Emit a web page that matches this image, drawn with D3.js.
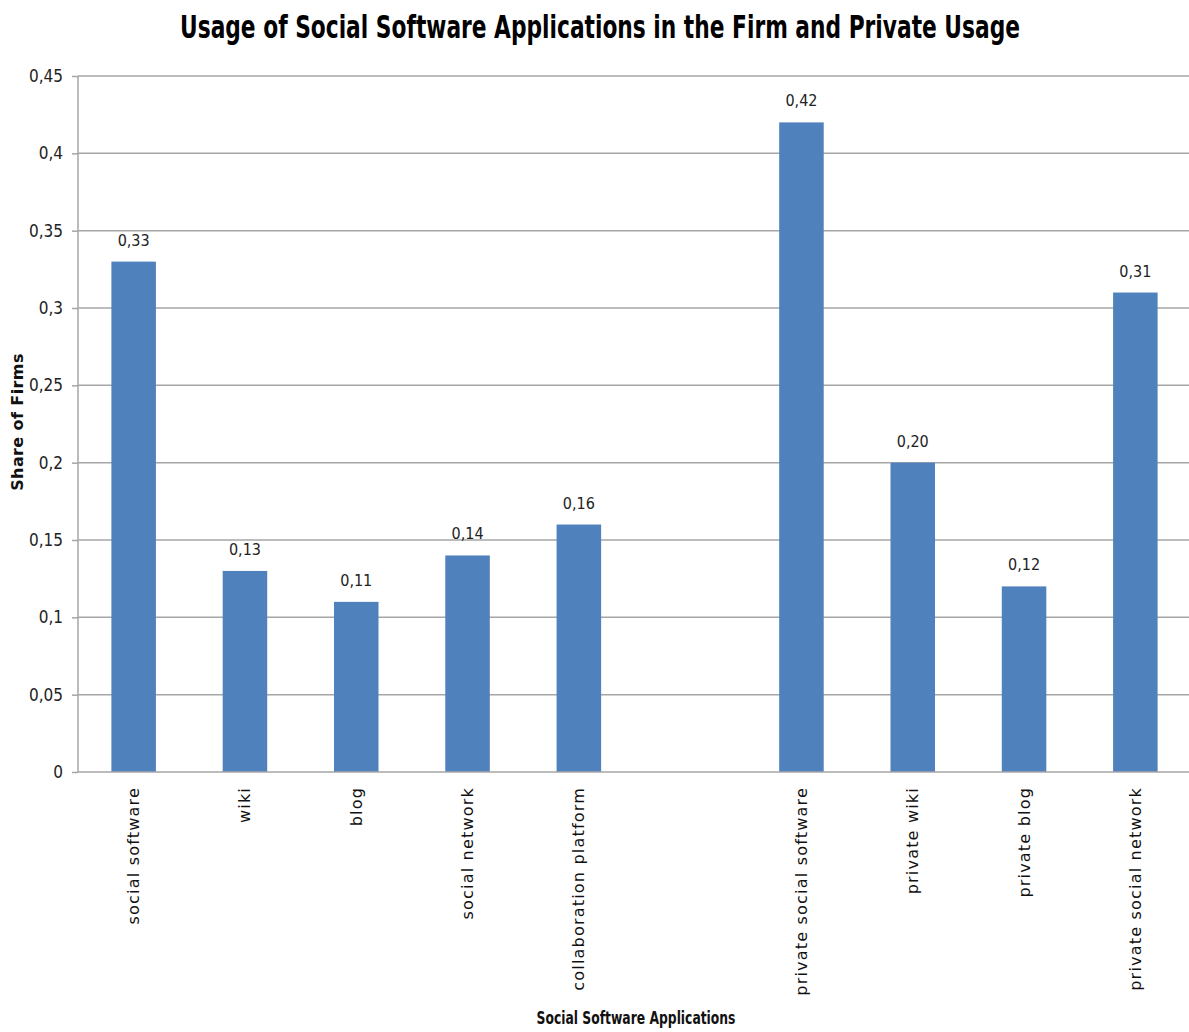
<!DOCTYPE html>
<html><head><meta charset="utf-8">
<script src="https://cdn.jsdelivr.net/npm/d3@7"></script>
<style>body{margin:0;background:#fff}</style>
</head><body>
<svg id="c" width="1189" height="1032"></svg>
<script>
const categories = ["social software","wiki","blog","social network","collaboration platform","","private social software","private wiki","private blog","private social network"];
const values = [0.33,0.13,0.11,0.14,0.16,null,0.42,0.20,0.12,0.31];
const yTicks = [0,0.05,0.1,0.15,0.2,0.25,0.3,0.35,0.4,0.45];
const yTickLabels = ["0","0,05","0,1","0,15","0,2","0,25","0,3","0,35","0,4","0,45"];
const title = "Usage of Social Software Applications in the Firm and Private Usage";
const xTitle = "Social Software Applications";
const yTitle = "Share of Firms";

(function(){
const svg = d3.select("#c");
const pL = 78, pR = 1191, pT = 76, pB = 772;
const narrow = "'DejaVu Sans Condensed','Liberation Sans Narrow',sans-serif";

const x = d3.scaleBand().domain(d3.range(categories.length)).range([pL, pR]).paddingInner(0.6).paddingOuter(0.3);
const y = d3.scaleLinear().domain([0,0.45]).range([pB, pT]);

// grid
svg.append("g").selectAll("line").data(yTicks.slice(1)).join("line")
  .attr("x1", pL).attr("x2", 1189).attr("y1", d=>y(d)).attr("y2", d=>y(d))
  .attr("stroke", "#a6a6a6").attr("stroke-width", 1.5);

// y axis
const ya = svg.append("g").attr("transform", `translate(${pL},0)`)
  .call(d3.axisLeft(y).tickValues(yTicks).tickSize(6).tickFormat((d,i)=>yTickLabels[i]));
ya.select(".domain").attr("stroke","#a6a6a6").attr("stroke-width",1.5).attr("d",`M0,${pT}V${pB}`);
ya.selectAll(".tick line").attr("stroke","#a6a6a6").attr("stroke-width",1.5);
ya.selectAll(".tick text").attr("x",-15).attr("font-family",narrow).attr("font-size",17).attr("fill","#222");

// bars
const data = categories.map((c,i)=>({c,i,v:values[i]})).filter(d=>d.v!==null);
svg.append("g").selectAll("rect").data(data).join("rect")
  .attr("x", d=>x(d.i)).attr("width", x.bandwidth())
  .attr("y", d=>y(d.v)).attr("height", d=>pB - y(d.v))
  .attr("fill", "#4F81BD");

// value labels
svg.append("g").selectAll("text").data(data).join("text")
  .attr("x", d=>x(d.i)+x.bandwidth()/2).attr("y", d=>y(d.v)-16)
  .attr("text-anchor","middle").attr("font-family",narrow).attr("font-size",16).attr("fill","#222")
  .text(d=>d.v.toFixed(2).replace(".",","));

// x axis line
svg.append("line").attr("x1",pL).attr("x2",1189).attr("y1",pB).attr("y2",pB)
  .attr("stroke","#a6a6a6").attr("stroke-width",1.5);

// category labels
svg.append("g").selectAll("text").data(categories.map((c,i)=>({c,i}))).join("text")
  .attr("transform", d=>`translate(${x(d.i)+x.bandwidth()/2},${pB+15}) rotate(-90)`)
  .attr("text-anchor","end").attr("dominant-baseline","central")
  .attr("font-family","'DejaVu Sans',Verdana,sans-serif").attr("font-size",16).attr("letter-spacing",1.2).attr("fill","#111")
  .text(d=>d.c);

// title, horizontally scaled to the reference width
const t = svg.append("text").attr("text-anchor","middle")
  .attr("font-family",narrow).attr("font-weight","bold").attr("font-size",32).attr("fill","#000").text(title);
const tw = t.node().getComputedTextLength();
const sx = Math.min(1, 840 / tw);
t.attr("transform",`translate(600,38) scale(${sx},1)`);

const xt = svg.append("text").attr("text-anchor","middle")
  .attr("font-family",narrow).attr("font-weight","bold").attr("font-size",18).attr("fill","#111").text(xTitle);
const xw = xt.node().getComputedTextLength();
xt.attr("transform",`translate(636,1024) scale(${Math.min(1,199/xw)},1)`);

svg.append("text").attr("transform","translate(23,422) rotate(-90)").attr("text-anchor","middle")
  .attr("font-family","'DejaVu Sans',Verdana,sans-serif").attr("font-weight","bold").attr("font-size",16).attr("letter-spacing",0.4).attr("fill","#111")
  .text(yTitle);
})();
</script>
</body></html>
